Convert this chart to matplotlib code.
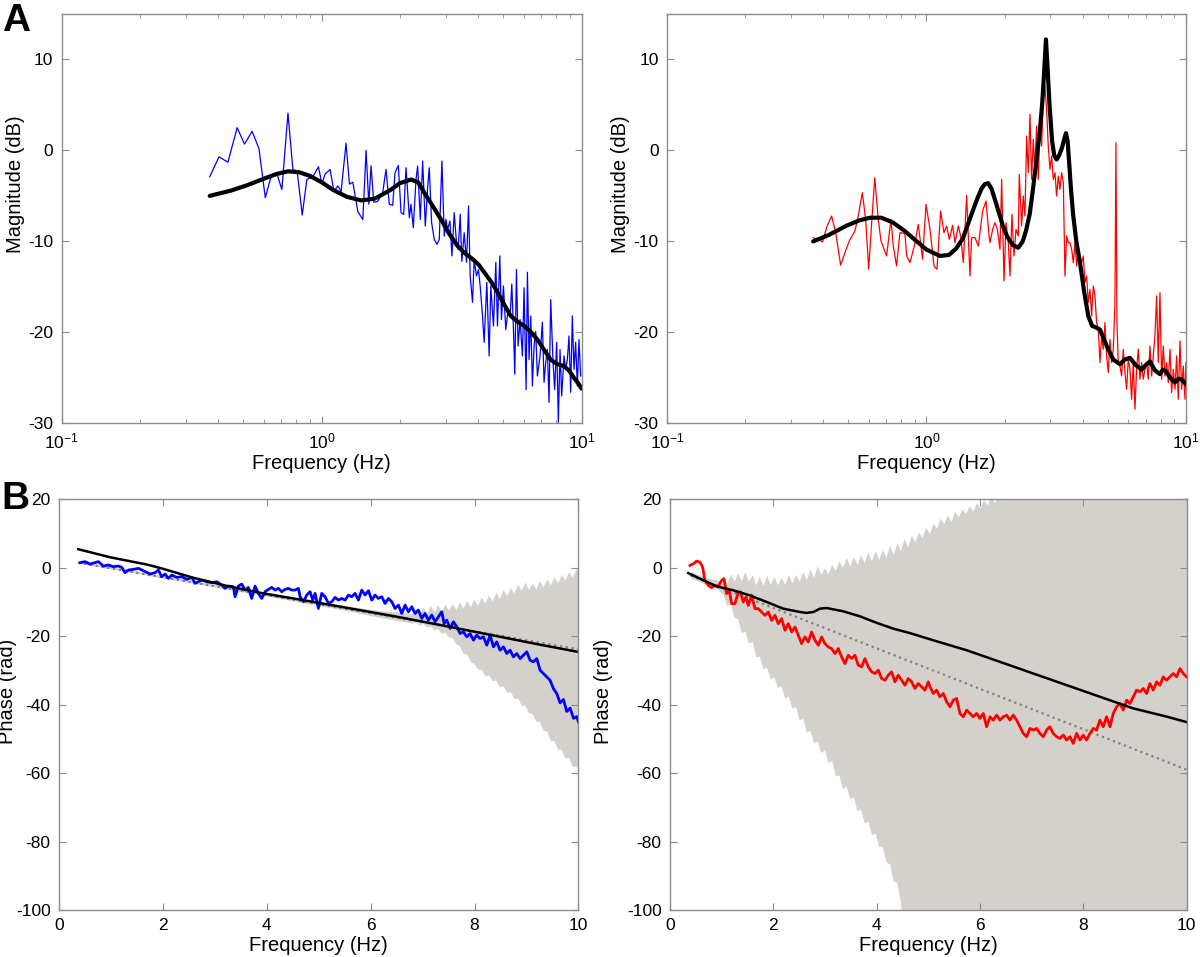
import matplotlib
matplotlib.use("Agg")
import matplotlib.pyplot as plt

plt.rcParams['font.family'] = ['Liberation Sans', 'DejaVu Sans']
plt.rcParams['mathtext.fontset'] = 'custom'
plt.rcParams['mathtext.rm'] = 'Liberation Sans'
plt.rcParams['mathtext.it'] = 'Liberation Sans:italic'
plt.rcParams['mathtext.bf'] = 'Liberation Sans:bold'
plt.rcParams['axes.unicode_minus'] = False

# ---- panel A, left: measured magnitude (blue) and model fit (black)
mag_l_f = [0.371, 0.403, 0.436, 0.473, 0.505, 0.540, 0.574, 0.607, 0.640, 0.675,
           0.703, 0.742, 0.775, 0.805, 0.842, 0.877, 0.925, 0.972, 1.002, 1.031,
           1.078, 1.114, 1.154, 1.188, 1.241, 1.279, 1.318, 1.377, 1.440, 1.482,
           1.518, 1.549, 1.586, 1.643,
           1.717, 1.768, 1.821, 1.876, 1.915, 1.972, 2.020, 2.068, 2.111, 2.174,
           2.206, 2.252, 2.306, 2.340, 2.396, 2.446, 2.504, 2.556, 2.594, 2.648,
           2.711, 2.776, 2.834, 2.901, 2.962, 3.006, 3.050, 3.114, 3.170, 3.235,
           3.293, 3.351, 3.411, 3.461, 3.534, 3.608, 3.672, 3.726, 3.804, 3.860,
           3.941, 4.011, 4.071, 4.156, 4.218, 4.318, 4.408, 4.473, 4.580, 4.676,
           4.745, 4.844, 4.916, 5.004, 5.108, 5.215, 5.308, 5.387, 5.467, 5.532,
           5.613, 5.696, 5.798, 5.918, 6.006, 6.114, 6.186, 6.278, 6.371, 6.465,
           6.561, 6.658, 6.757, 6.918, 7.063, 7.168, 7.274, 7.382, 7.492, 7.603,
           7.762, 7.877, 8.017, 8.136, 8.257, 8.380, 8.555, 8.682, 8.810, 8.941,
           9.074, 9.209, 9.346, 9.484, 9.625, 9.768, 9.913]
mag_l_db = [-2.9, -0.7, -1.3, 2.5, 0.7, 2.1, 0.2, -5.2, -2.8, -2.7,
            -4.3, 4.1, -2.1, -2.3, -7.1, -3.2, -2.9, -1.8, -3.7, -2.6,
            -2.1, -4.5, -3.9, -4.5, 0.8, -3.7, -3.5, -6.7, -7.6, 0.0,
            -5.9, -1.7, -5.7, -5.6,
            -4.65, -2.09, -5.93, -6.04, -2.45, -1.65, -6.85, -7.03, -1.90, -7.40,
            -5.93, -8.50, -3.18, -1.72, -7.58, -1.17, -8.31, -4.10, -1.90, -7.95,
            -9.78, -10.33, -9.78, -1.17, -9.41, -7.58, -8.68, -7.76, -11.6, -6.85,
            -9.78, -10.9, -7.03, -12.2, -9.05, -12.3, -6.11, -13.8, -16.7, -12.0,
            -13.8, -13.1, -14.9, -18.2, -21.1, -14.5, -22.6, -14.9, -19.3, -12.3,
            -19.3, -11.6, -18.6, -14.9, -19.7, -17.5, -18.2, -14.7, -19.7, -24.6,
            -13.1, -21.5, -18.6, -22.6, -15.1, -26.3, -13.4, -23.0, -18.2, -25.9,
            -21.5, -19.9, -24.8, -22.6, -18.9, -25.5, -23.3, -21.9, -27.7, -16.4,
            -23.3, -26.3, -21.1, -29.9, -21.9, -27.0, -22.6, -24.1, -23.0, -20.4,
            -26.6, -18.2, -24.1, -21.1, -25.9, -20.8, -24.8]
fit_l_f = [0.371, 0.45, 0.52, 0.60, 0.67, 0.742, 0.82, 0.90, 1.0, 1.1, 1.25, 1.42,
           1.6, 1.75, 1.85, 2.0, 2.21, 2.35, 2.5, 2.7, 2.88, 3.1, 3.33, 3.55, 3.75,
           4.0, 4.22, 4.5, 4.75, 5.05, 5.34, 5.65, 6.01, 6.4, 6.76, 7.2, 7.6,
           8.05, 8.55, 9.0, 9.34, 9.7, 10.0]
fit_l_db = [-5.0, -4.4, -3.8, -3.1, -2.6, -2.3, -2.4, -2.8, -3.5, -4.3, -5.1, -5.5,
            -5.3, -4.7, -4.3, -3.6, -3.2, -3.5, -4.8, -6.3, -7.6, -9.2, -10.5, -11.3, -11.8,
            -12.5, -13.4, -14.5, -15.6, -17.0, -18.2, -18.8, -19.3, -20.0, -20.8, -22.0, -23.0,
            -23.5, -23.7, -24.3, -25.0, -25.6, -26.2]

# ---- panel A, right
mag_r_f = [0.366, 0.377, 0.386, 0.398, 0.412, 0.431, 0.447, 0.467, 0.485, 0.504,
           0.530, 0.546, 0.566, 0.583, 0.599, 0.615, 0.632, 0.652, 0.668, 0.702,
           0.730, 0.745, 0.767, 0.790, 0.826, 0.839, 0.864, 0.898, 0.930, 0.966,
           0.996, 1.032, 1.069, 1.098, 1.134, 1.168, 1.196, 1.225, 1.261, 1.288,
           1.327, 1.354, 1.387, 1.428, 1.471, 1.493, 1.538, 1.584, 1.646, 1.696,
           1.746,
           1.757, 1.799, 1.837, 1.875, 1.920, 1.949, 1.990, 2.025, 2.067, 2.098,
           2.135, 2.174, 2.213, 2.259, 2.279, 2.326,
           2.361, 2.396, 2.432, 2.468, 2.505, 2.542, 2.580, 2.618, 2.657, 2.697,
           2.737, 2.778, 2.819, 2.861, 2.904, 2.947, 2.992, 3.036, 3.082, 3.128,
           3.174, 3.221, 3.270, 3.318, 3.368, 3.418, 3.469, 3.521, 3.573, 3.627,
           3.681, 3.735, 3.791, 3.847, 3.905, 3.963, 4.021, 4.081, 4.142, 4.204,
           4.266, 4.330, 4.394, 4.460, 4.526, 4.594, 4.662, 4.732, 4.802, 4.874,
           4.946, 5.020, 5.094, 5.170, 5.248, 5.326, 5.373, 5.421, 5.479,
           5.567, 5.650, 5.734, 5.820, 5.906, 5.994, 6.084, 6.174, 6.267, 6.360,
           6.454, 6.551, 6.648, 6.746, 6.848, 6.950, 7.052, 7.159, 7.265, 7.374,
           7.482, 7.594, 7.709, 7.823, 7.940, 8.057, 8.179, 8.300, 8.424, 8.548,
           8.677, 8.805, 8.939, 9.071, 9.204, 9.343, 9.481, 9.623, 9.766, 9.911,
           10.0]
mag_r_db = [-9.59, -9.78, -9.85, -10.07, -8.49, -7.21, -9.04, -12.63, -11.24, -9.96,
            -8.86, -7.21, -4.65, -7.58, -13.07, -7.95, -3.00, -7.58, -9.96, -11.61,
            -7.58, -10.51, -12.71, -9.04, -9.12, -11.61, -12.34, -10.51, -8.13, -11.97,
            -5.93, -8.68, -12.71, -13.07, -6.66, -9.04, -8.31, -9.78, -8.24, -10.14,
            -8.31, -9.41, -12.34, -4.94, -13.81, -9.59, -9.59, -10.51, -6.66, -5.56,
            -9.59,
            -10.14, -8.68, -7.95, -8.68, -10.88, -3.18, -14.36, -7.95, -10.14, -13.81,
            -7.03, -11.61, -8.68, -9.41, -2.63, -8.31,
            -5.02, -7.21, 1.58, -2.45, 3.96, -3.18, 1.21, -2.08, 2.68, -3.18,
            2.68, 0.48, 5.61, 7.07, 4.51, 0.48, -2.08, -0.62, -3.18, -2.45,
            -5.02, -2.82, -4.28, -2.45, -3.55, -13.81, -9.41, -10.14, -10.14, -10.88,
            -12.34, -10.14, -12.71, -10.88, -11.97, -12.34, -11.61, -14.54, -13.81, -16.74,
            -15.27, -18.20, -14.91, -16.0, -18.93, -19.67, -23.33, -20.40, -21.86, -18.93,
            -22.6, -24.43, -20.77, -23.33, -21.86, -16.74, 0.85, -18.93, -22.96,
            -23.7, -24.80, -21.86, -24.43, -26.26, -22.96, -24.06, -27.36, -23.33, -28.46,
            -24.06, -21.86, -25.16, -23.33, -25.16, -24.06, -23.33, -25.16, -21.50, -24.80,
            -22.6, -20.40, -16.0, -23.33, -15.64, -25.16, -21.50, -24.80, -23.33, -25.53,
            -21.86, -26.63, -24.06, -26.26, -22.6, -27.36, -20.95, -26.26, -23.7, -27.36,
            -23.33]
fit_r_f = [0.366, 0.42, 0.49, 0.55, 0.606, 0.67, 0.74, 0.82, 0.9, 1.0, 1.127, 1.22,
           1.3, 1.38, 1.45, 1.51, 1.57, 1.63, 1.68, 1.73, 1.78, 1.84, 1.9, 1.97, 2.05,
           2.15, 2.258, 2.35, 2.42, 2.5, 2.58, 2.66, 2.738, 2.79, 2.84, 2.887, 2.93,
           2.98, 3.05, 3.11, 3.175, 3.25, 3.33, 3.40, 3.448, 3.50, 3.55, 3.61, 3.679,
           3.78, 3.904, 4.05, 4.203, 4.35, 4.45, 4.663, 4.95, 5.248, 5.569, 5.8, 6.084,
           6.4, 6.751, 7.0, 7.266, 7.6, 7.94, 8.15, 8.375, 8.7, 9.07, 9.35, 9.63, 10.0]
fit_r_db = [-10.0, -9.3, -8.3, -7.7, -7.4, -7.4, -7.9, -8.8, -9.8, -10.9, -11.6, -11.5,
            -10.8, -9.7, -8.0, -6.6, -5.3, -4.2, -3.7, -3.6, -4.2, -5.5, -6.8, -8.3, -9.5,
            -10.4, -10.7, -10.0, -8.8, -7.0, -4.0, -0.8, 2.3, 5.0, 8.5, 12.2, 9.0,
            5.0, 1.0, -0.6, -1.0, -0.5, 0.3, 1.3, 1.9, 1.0, -1.5, -4.5, -7.2,
            -10.0, -12.3, -15.5, -18.2, -19.3, -19.4, -19.7, -21.5, -23.0, -23.5, -23.0, -22.8,
            -23.6, -24.1, -23.6, -23.2, -24.2, -24.6, -24.1, -24.3, -25.0, -25.5, -25.1, -25.2, -25.7]

# ---- panel B, left: measured phase (blue), model (black), linear fit (dotted)
ph_l_f = [0.404, 0.501, 0.597, 0.693, 0.757, 0.854, 0.950, 1.046, 1.143, 1.207,
          1.271, 1.335, 1.431, 1.528, 1.624, 1.752, 1.849, 1.913, 1.977, 2.041,
          2.105, 2.170, 2.266, 2.362, 2.459, 2.555, 2.619, 2.683, 2.747, 2.844,
          2.940, 3.036, 3.132, 3.197, 3.261, 3.357, 3.389, 3.453, 3.518, 3.582,
          3.646, 3.710, 3.774, 3.839, 3.903, 3.967, 4.031, 4.095, 4.159, 4.224,
          4.288, 4.352, 4.416, 4.480, 4.545, 4.609,
          4.641, 4.705, 4.769, 4.834, 4.885, 4.930, 4.994, 5.058, 5.122, 5.187,
          5.251, 5.315, 5.379, 5.443, 5.508, 5.572, 5.636, 5.700, 5.764, 5.829,
          5.893, 5.957, 6.021, 6.085, 6.149, 6.214, 6.278, 6.342, 6.406, 6.470,
          6.535, 6.599, 6.663, 6.727, 6.791, 6.856, 6.920, 6.984, 7.048, 7.112,
          7.177, 7.241, 7.305, 7.369, 7.414, 7.465, 7.530, 7.594, 7.658, 7.722,
          7.786, 7.851, 7.915, 7.979, 8.043, 8.107, 8.171, 8.236, 8.300, 8.364,
          8.428, 8.492, 8.557, 8.621, 8.685, 8.749, 8.813, 8.878, 8.942, 9.006,
          9.070, 9.134, 9.198, 9.263, 9.327, 9.391, 9.455, 9.519, 9.584, 9.648,
          9.712, 9.776, 9.840, 9.905, 9.969, 10.0]
ph_l = [1.48, 1.77, 1.08, 1.48, 1.77, 0.50, 0.79, 0.30, 0.50, 0.11,
        -1.45, -0.67, -0.48, -0.18, -0.87, -1.84, -1.45, -0.67, -2.62, -1.84,
        -3.11, -2.14, -2.82, -2.62, -3.40, -2.82, -4.58, -4.09, -3.60, -4.09,
        -4.38, -4.09, -5.06, -6.04, -5.36, -5.55, -8.48, -5.36, -4.77, -6.53,
        -5.75, -8.97, -5.36, -7.50, -8.97, -7.02, -6.33, -5.75, -6.53, -6.04,
        -7.02, -6.33, -6.04, -6.53, -6.53, -6.04,
        -8.48, -9.94, -7.99, -7.02, -9.46, -7.50, -11.9, -7.50, -8.48, -10.43,
        -9.94, -8.68, -9.46, -8.97, -9.46, -7.99, -8.48, -7.50, -9.46, -6.53,
        -7.99, -6.72, -9.46, -7.99, -8.97, -8.48, -10.43, -8.97, -9.94, -11.9,
        -10.92, -13.36, -10.92, -12.87, -11.41, -13.36, -12.38, -14.82, -13.36, -15.31,
        -13.85, -15.80, -14.34, -12.87, -16.29, -15.31, -17.75, -15.80, -17.26, -19.22,
        -18.73, -20.19, -19.22, -21.17, -19.70, -20.68, -20.19, -22.63, -19.70, -23.12,
        -21.66, -24.10, -23.12, -25.07, -24.10, -26.05, -25.07, -26.54, -25.56, -24.58,
        -27.02, -27.51, -26.54, -29.95, -30.93, -31.90, -32.88, -35.32, -36.79, -39.5,
        -38.5, -42.0, -41.0, -44.0, -43.5, -45.0]
model_l_f = [0.37, 1.0, 1.7, 2.0, 2.6, 3.2, 3.9, 4.6, 5.5, 6.5, 7.5, 8.5, 9.3, 10.0]
model_l = [5.4, 3.0, 0.9, -0.3, -3.0, -5.2, -7.4, -9.2, -11.6, -14.3, -17.2, -20.2, -22.6, -24.6]
lin_l_f = [0.37, 10.0]
lin_l = [1.5, -23.8]
band_l_f = [0.404, 2.0, 4.0, 5.5, 6.2, 6.6,
            6.80, 6.87, 6.94, 7.01, 7.08, 7.15, 7.22, 7.29, 7.36, 7.43,
            7.50, 7.57, 7.64, 7.71, 7.78, 7.85, 7.92, 7.99, 8.06, 8.13,
            8.20, 8.27, 8.34, 8.41, 8.48, 8.55, 8.62, 8.69, 8.76, 8.83,
            8.90, 8.97, 9.04, 9.11, 9.18, 9.25, 9.32, 9.39, 9.46, 9.53,
            9.60, 9.67, 9.74, 9.81, 9.88, 9.95, 10.0]
band_l_hi = [1.8, -2.3, -7.4, -11.1, -12.6, -13.0,
             -13.4, -12.0, -13.6, -11.5, -13.4, -11.0, -13.0, -10.8, -12.8, -10.6,
             -12.5, -10.5, -12.2, -10.0, -11.8, -9.6, -11.4, -9.2, -11.0, -8.6,
             -10.4, -8.0, -9.8, -7.2, -9.0, -6.4, -8.2, -5.8, -7.4, -4.8,
             -6.6, -4.2, -6.4, -4.4, -6.2, -3.8, -5.6, -3.2, -5.0, -2.6,
             -4.4, -2.0, -3.6, -1.2, -2.8, -0.6, 0.4]
band_l_lo = [1.2, -3.0, -8.3, -12.4, -14.6, -15.6,
             -16.2, -15.8, -16.8, -16.2, -17.4, -17.0, -18.2, -17.8, -19.2, -18.8,
             -20.2, -20.4, -22.2, -22.8, -25.0, -25.2, -27.4, -28.0, -29.6, -29.6,
             -31.6, -31.2, -33.0, -32.8, -34.8, -34.4, -36.4, -36.2, -38.2, -38.0,
             -40.2, -40.2, -42.4, -42.6, -44.8, -45.0, -47.4, -47.8, -50.4, -50.6,
             -53.0, -53.0, -55.6, -55.4, -58.0, -58.0, -59.0]

# ---- panel B, right
ph_r_f = [0.387, 0.452, 0.516, 0.581, 0.632, 0.677, 0.742, 0.806, 0.871, 0.935,
          1.000, 1.045, 1.097, 1.148, 1.193, 1.258, 1.323, 1.368, 1.419, 1.471,
          1.516, 1.581, 1.645, 1.710, 1.774, 1.839, 1.903, 1.968, 2.032, 2.097,
          2.161, 2.226, 2.290, 2.355, 2.419, 2.484, 2.548, 2.613, 2.677, 2.742,
          2.806, 2.871, 2.935, 3.000, 3.064, 3.129, 3.193, 3.258, 3.322, 3.387,
          3.451, 3.516, 3.580, 3.645, 3.709, 3.774, 3.838, 3.903, 3.967, 4.032,
          4.096, 4.161, 4.225, 4.290, 4.354, 4.419, 4.483, 4.548, 4.612, 4.677,
          4.741, 4.806, 4.870, 4.935, 5.000,
          5.032, 5.096, 5.161, 5.225, 5.290, 5.354, 5.419, 5.483, 5.548, 5.612,
          5.677, 5.741, 5.806, 5.870, 5.935, 5.999, 6.064, 6.128, 6.193, 6.257,
          6.322, 6.386, 6.451, 6.515, 6.580, 6.644, 6.709, 6.773, 6.838, 6.902,
          6.967, 7.031, 7.096, 7.160, 7.225, 7.289, 7.354, 7.418, 7.483, 7.547,
          7.612, 7.676, 7.741, 7.805, 7.870, 7.934, 7.999, 8.063, 8.128, 8.192,
          8.257, 8.321, 8.386, 8.450, 8.515, 8.579, 8.644, 8.708, 8.773, 8.838,
          8.902, 8.967, 9.031, 9.096, 9.160, 9.225, 9.289, 9.354, 9.418, 9.483,
          9.547, 9.612, 9.676, 9.741, 9.805, 9.870, 9.934, 9.999]
ph_r = [0.67, 1.15, 1.93, 1.64, 0.18, -3.70, -5.16, -5.84, -5.16, -5.45,
        -3.70, -3.22, -7.59, -6.62, -10.51, -10.51, -7.10, -7.10, -10.02, -8.56,
        -10.99, -8.07, -11.96, -11.96, -12.94, -13.91, -12.94, -15.37, -13.91, -16.34,
        -14.88, -18.28, -16.34, -18.77, -17.31, -19.74, -22.17, -20.22, -21.68, -18.77,
        -21.20, -22.65, -20.22, -22.17, -23.14, -23.63, -25.08, -23.63, -26.06, -28.00,
        -25.57, -26.54, -25.57, -28.48, -28.97, -26.54, -28.97, -30.43, -30.91, -29.94,
        -32.37, -32.86, -31.40, -30.43, -33.34, -31.40, -32.86, -34.32, -32.37, -33.34,
        -35.29, -33.83, -34.80, -35.77, -33.34,
        -34.80, -36.75, -35.77, -37.72, -36.75, -39.17, -40.63, -38.69, -38.20, -42.58,
        -43.55, -41.60, -42.58, -43.55, -42.58, -44.03, -42.58, -46.46, -43.55, -44.52,
        -43.06, -44.52, -43.55, -43.06, -44.52, -43.06, -44.52, -46.46, -48.41, -49.38,
        -46.95, -47.44, -46.95, -48.41, -49.38, -47.44, -46.46, -48.41, -49.38, -49.86,
        -48.89, -50.35, -49.38, -51.32, -48.41, -50.35, -48.89, -50.35, -48.41, -46.95,
        -47.44, -44.52, -46.46, -43.55, -46.46, -42.58, -40.63, -39.66, -41.60, -38.69,
        -39.66, -37.72, -35.77, -36.26, -35.29, -36.75, -33.83, -35.77, -33.34, -34.32,
        -31.89, -32.86, -31.89, -30.91, -31.89, -29.46, -30.91, -31.89]
model_r_f = [0.355, 0.581, 0.903, 1.226, 1.548, 1.871, 2.193, 2.516, 2.645, 2.774,
             2.903, 3.032, 3.355, 3.677, 4.0, 4.322, 4.645, 5.096, 5.741, 6.386,
             7.031, 7.676, 8.321, 8.967, 9.612, 10.0]
model_r = [-1.57, -3.2, -5.45, -6.6, -8.1, -10.0, -11.96, -12.94, -13.2, -12.94,
           -11.96, -11.77, -12.74, -14.2, -16.1, -17.8, -19.1, -21.2, -24.1, -27.5,
           -30.9, -34.3, -37.7, -41.1, -43.5, -45.1]
lin_r_f = [0.4, 10.0]
lin_r = [-2.3, -59.0]
band_r_f = [0.40, 0.47, 0.54, 0.61, 0.68, 0.75, 0.82, 0.89, 0.96, 1.03,
            1.10, 1.17, 1.24, 1.31, 1.38, 1.45, 1.52, 1.59, 1.66, 1.73,
            1.80, 1.87, 1.94, 2.01, 2.08, 2.15, 2.22, 2.29, 2.36, 2.43,
            2.50, 2.57, 2.64, 2.71, 2.78, 2.85, 2.92, 2.99, 3.06, 3.13,
            3.20, 3.27, 3.34, 3.41, 3.48, 3.55, 3.62, 3.69, 3.76, 3.83,
            3.90, 3.97, 4.04, 4.11, 4.18, 4.25, 4.32, 4.39, 4.46, 4.53,
            4.60, 4.67, 4.74, 4.81, 4.88, 4.95, 5.02, 5.09, 5.16, 5.23,
            5.30, 5.37, 5.44, 5.51, 5.58, 5.65, 5.72, 5.79, 5.86, 5.93,
            6.00, 6.07, 6.14, 6.21, 6.28, 6.35, 6.42, 6.49, 10.0]
band_r_hi = [-1.0, -1.5, -2.0, -2.3, -2.8, -3.0, -3.4, -3.3, -4.2, -2.4,
             -4.5, -1.8, -4.0, -1.5, -3.8, -1.2, -4.0, -2.0, -5.0, -2.5,
             -5.2, -2.2, -4.8, -2.6, -5.0, -2.8, -4.8, -2.0, -4.5, -2.0,
             -4.0, -1.2, -3.5, -0.5, -2.8, 0.5, -2.0, 0.0, -1.8, 1.0,
             -0.8, 2.0, 0.2, 3.0, 0.5, 3.2, 1.0, 3.8, 1.5, 4.5,
             2.0, 5.0, 2.5, 5.2, 3.0, 6.5, 4.0, 7.2, 5.0, 8.5,
             6.0, 9.5, 7.5, 10.5, 8.8, 11.8, 10.0, 13.0, 11.5, 14.5,
             12.8, 15.5, 13.5, 16.5, 14.8, 17.2, 15.8, 18.2, 16.5, 19.0,
             17.5, 20.0, 18.3, 21.0, 19.0, 22.0, 20.0, 25.0, 25.0]
band_r_lo = [-3.0, -3.4, -3.9, -4.3, -4.8, -5.1, -5.6, -5.9, -6.8, -8.0,
             -11.0, -10.5, -14.5, -15.0, -19.0, -18.5, -22.0, -21.5, -26.0, -25.8,
             -29.5, -29.0, -32.5, -31.8, -35.0, -34.5, -38.0, -37.5, -41.0, -40.5,
             -44.5, -44.0, -48.0, -47.5, -51.2, -50.5, -54.0, -53.2, -57.0, -56.2,
             -60.8, -60.5, -64.5, -63.8, -67.5, -66.8, -71.0, -70.5, -74.5, -74.0,
             -78.0, -77.5, -81.5, -81.5, -86.0, -86.5, -91.5, -92.0, -97.5, -110.0,
             -110.0, -110.0, -110.0, -110.0, -110.0, -110.0, -110.0, -110.0, -110.0, -110.0,
             -110.0, -110.0, -110.0, -110.0, -110.0, -110.0, -110.0, -110.0, -110.0, -110.0,
             -110.0, -110.0, -110.0, -110.0, -110.0, -110.0, -110.0, -110.0, -110.0]

band_color = '#d4d0cb'
spine_color = '#8c8c8c'


def style_axes(ax):
    for s in ax.spines.values():
        s.set_color(spine_color)
        s.set_linewidth(1.0)
    ax.tick_params(which='both', direction='in', top=True, right=True,
                   color=spine_color, labelsize=12.5, pad=6)
    ax.tick_params(which='major', length=5)
    ax.tick_params(which='minor', length=3)


fig = plt.figure(figsize=(12, 9.57), dpi=100)
ax1 = fig.add_axes([0.0514, 0.5577, 0.4333, 0.4277])
ax2 = fig.add_axes([0.5558, 0.5577, 0.4325, 0.4277])
ax3 = fig.add_axes([0.0492, 0.0491, 0.4328, 0.4292])
ax4 = fig.add_axes([0.5583, 0.0491, 0.4306, 0.4292])

# magnitude panels
ax1.plot(mag_l_f, mag_l_db, color='#0000ff', lw=0.9)
ax1.plot(fit_l_f, fit_l_db, color='k', lw=3.0, solid_capstyle='round')
ax2.plot(mag_r_f, mag_r_db, color='#ff0000', lw=0.9)
ax2.plot(fit_r_f, fit_r_db, color='k', lw=3.0, solid_capstyle='round')
for ax in (ax1, ax2):
    ax.set_xscale('log')
    ax.set_xlim(0.1, 10)
    ax.set_ylim(-30, 15)
    ax.set_yticks([-30, -20, -10, 0, 10])
    ax.set_xlabel('Frequency (Hz)', fontsize=14.5, labelpad=2)
    ax.set_ylabel('Magnitude (dB)', fontsize=14.5)
    style_axes(ax)
ax1.yaxis.set_label_coords(-0.071, 0.584)
ax2.yaxis.set_label_coords(-0.071, 0.584)

# phase panels
ax3.fill_between(band_l_f, band_l_lo, band_l_hi, color=band_color, lw=0)
ax3.plot(lin_l_f, lin_l, color='#7f7f7f', lw=1.6, ls=':')
ax3.plot(ph_l_f, ph_l, color='#0000ff', lw=2.0)
ax3.plot(model_l_f, model_l, color='k', lw=1.8)
ax4.fill_between(band_r_f, band_r_lo, band_r_hi, color=band_color, lw=0)
ax4.plot(lin_r_f, lin_r, color='#7f7f7f', lw=1.6, ls=':')
ax4.plot(ph_r_f, ph_r, color='#ff0000', lw=2.0)
ax4.plot(model_r_f, model_r, color='k', lw=1.8)
for ax in (ax3, ax4):
    ax.set_xlim(0, 10)
    ax.set_ylim(-100, 20)
    ax.set_xticks([0, 2, 4, 6, 8, 10])
    ax.set_yticks([-100, -80, -60, -40, -20, 0, 20])
    ax.set_xlabel('Frequency (Hz)', fontsize=14.5, labelpad=2)
    ax.set_ylabel('Phase (rad)', fontsize=14.5)
    style_axes(ax)
ax3.yaxis.set_label_coords(-0.081, 0.533)
ax4.yaxis.set_label_coords(-0.110, 0.533)

fig.text(0.0015, 0.997, 'A', fontsize=28, fontweight='bold', va='top', ha='left')
fig.text(0.0015, 0.497, 'B', fontsize=28, fontweight='bold', va='top', ha='left')

fig.savefig('out.png', dpi=100)
